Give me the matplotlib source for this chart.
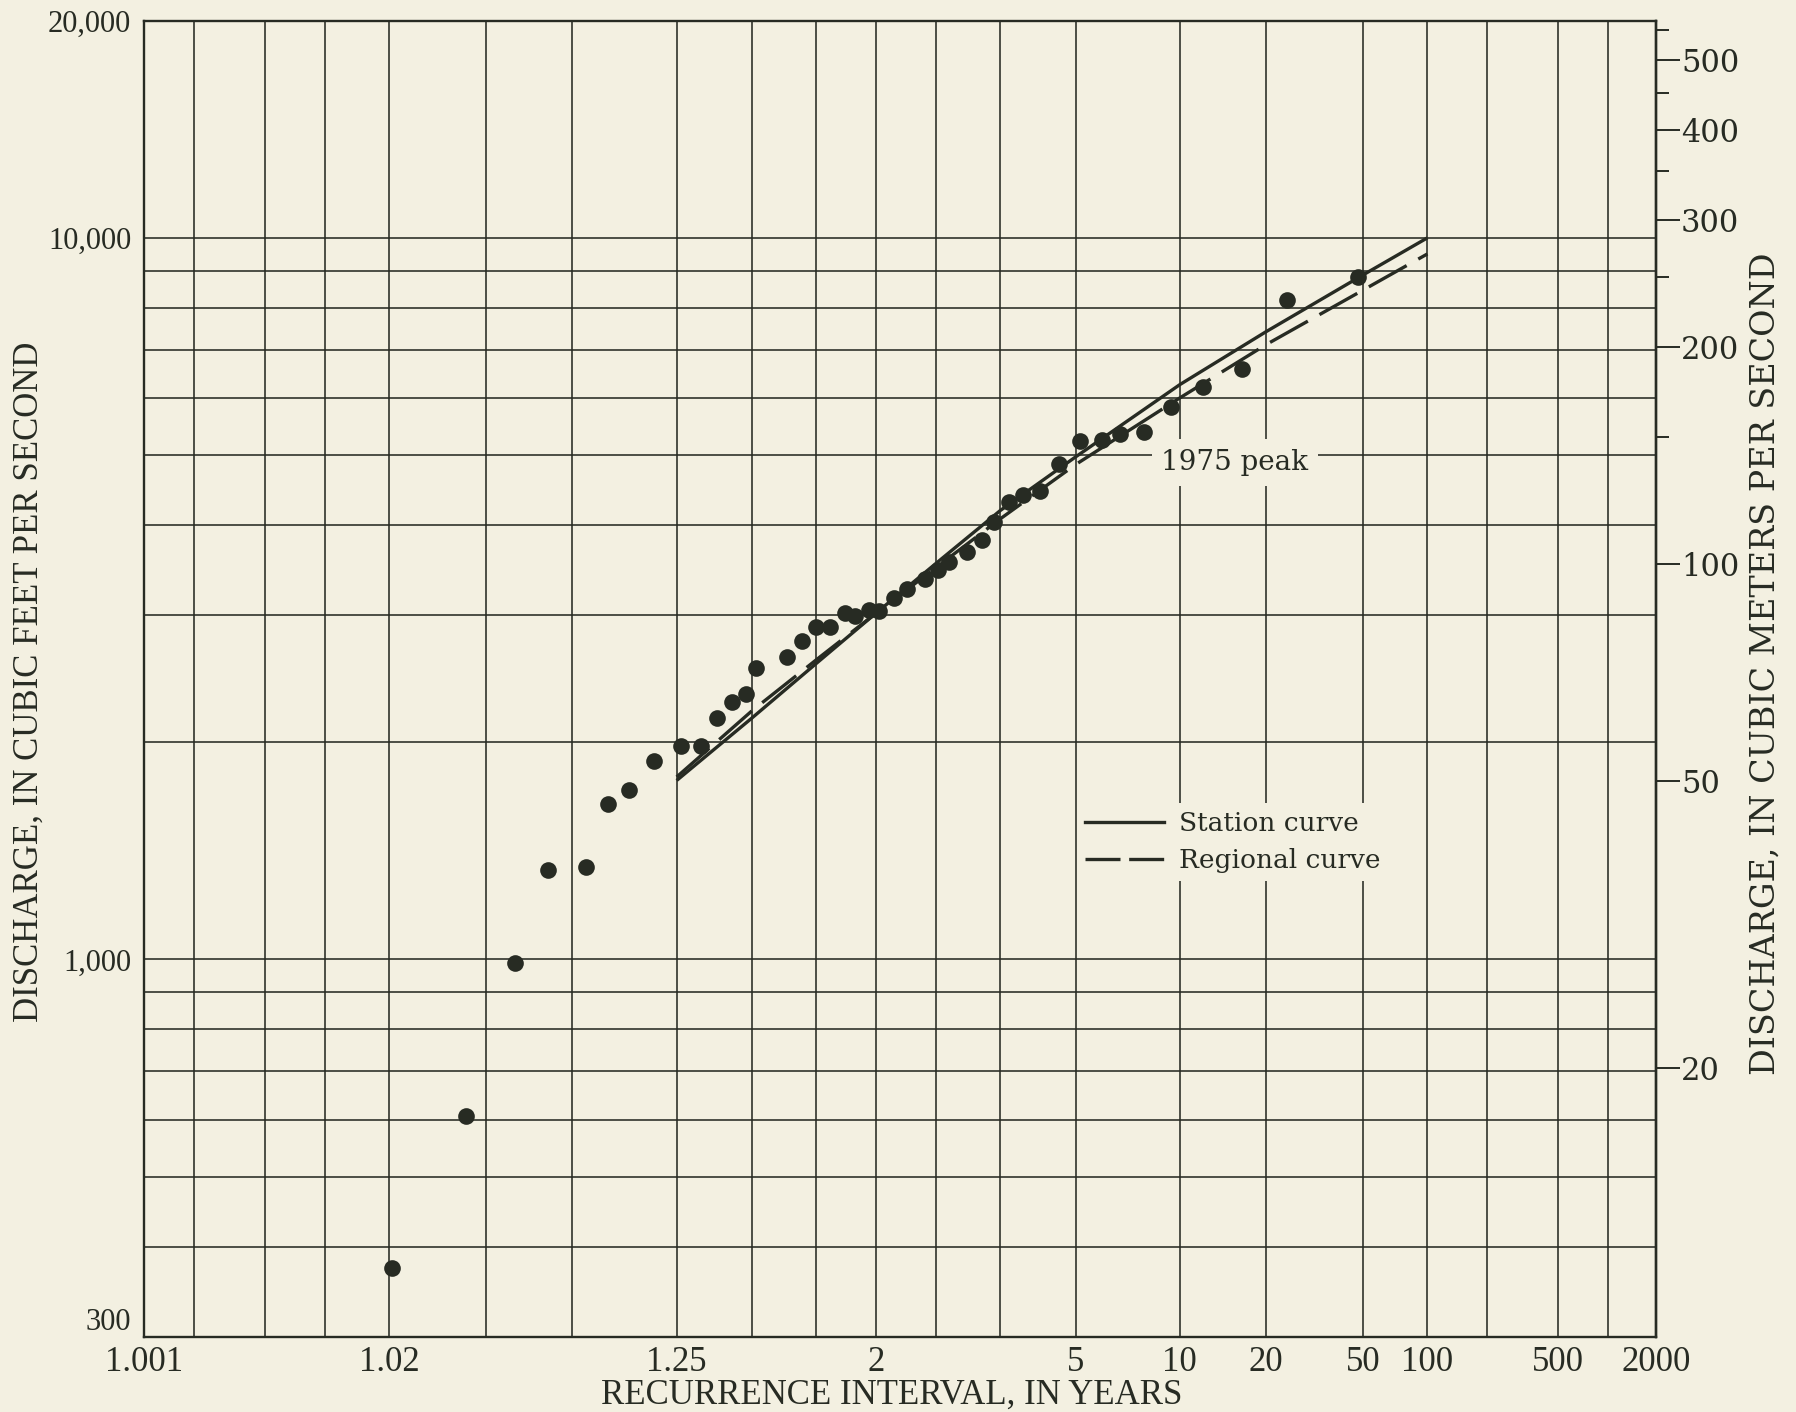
import math
from statistics import NormalDist
import numpy as np
import matplotlib
matplotlib.use('Agg')
import matplotlib.pyplot as plt
from matplotlib.ticker import NullFormatter
from matplotlib.lines import Line2D

BG = '#f3f0e1'
INK = '#272b23'
CFS_PER_CMS = 35.3147

# annual peaks: recurrence interval (years) and discharge (ft3/s)
peak_T = [1.021, 1.0436, 1.0684, 1.091, 1.124, 1.148, 1.175, 1.2115, 1.258, 1.299,
          1.335, 1.373, 1.411, 1.442, 1.546, 1.605, 1.666, 1.735, 1.809, 1.865,
          1.956, 2.023, 2.131, 2.231, 2.392, 2.523, 2.636, 2.853, 3.054, 3.226,
          3.476, 3.737, 4.08, 4.555, 5.14, 5.87, 6.60, 7.76, 9.35, 11.89,
          16.25, 24.2, 47.8]
peak_Q = [374, 606, 988, 1330, 1343, 1644, 1718, 1885, 1975, 1978,
          2160, 2275, 2334, 2532, 2627, 2759, 2893, 2893, 3016, 2994,
          3051, 3041, 3168, 3260, 3364, 3462, 3555, 3673, 3808, 4036,
          4300, 4400, 4460, 4860, 5230, 5250, 5340, 5380, 5820, 6210,
          6590, 8200, 8820]

station_T = [1.25, 1.4286, 1.6667, 2, 2.5, 3.3333, 5, 10, 20, 50, 100]
station_Q = [1770, 2160, 2570, 3020, 3540, 4190, 4970, 6260, 7410, 8880, 10000]

regional_T = [1.25, 1.4286, 1.6667, 2, 3.3333, 5, 10, 20, 50, 100]
regional_Q = [1790, 2210, 2600, 3020, 4080, 4850, 6000, 7110, 8460, 9500]

x_label_T = [1.001, 1.0204, 1.25, 2, 5, 10, 20, 50, 100, 500, 2000]
x_label_txt = ['1.001', '1.02', '1.25', '2', '5', '10', '20', '50', '100', '500', '2000']
x_grid_T = [1.002, 1.005, 1.0101, 1.0204, 1.0526, 1.1111, 1.25, 1.4286, 1.6667, 2,
            2.5, 3.3333, 5, 10, 20, 50, 100, 200, 500, 1000]

y_label_Q = [300, 1000, 10000, 20000]
y_label_txt = ['300', '1,000', '10,000', '20,000']
y_grid_Q = [400, 500, 600, 700, 800, 900, 2000, 3000, 4000, 5000, 6000, 7000, 8000, 9000]

cms_major = [20, 50, 100, 200, 300, 400, 500]
cms_minor = [150, 250, 350, 450, 550]

ND = NormalDist()
_ppf = np.vectorize(ND.inv_cdf, otypes=[float])
_erfc = np.vectorize(math.erfc, otypes=[float])


def t_to_z(t):
    # probability paper: recurrence interval -> standard normal variate
    t = np.clip(np.asarray(t, dtype=float), 1.0000001, 1e9)
    return _ppf(1.0 - 1.0 / t)


def z_to_t(z):
    z = np.asarray(z, dtype=float)
    q = 0.5 * _erfc(z / math.sqrt(2.0))
    return 1.0 / np.maximum(q, 1e-300)


plt.rcParams['font.family'] = ['Liberation Serif', 'DejaVu Serif']
plt.rcParams['text.color'] = INK

fig = plt.figure(figsize=(17.96, 14.12), dpi=100, facecolor=BG)
ax = fig.add_axes([0.0800, 0.0533, 0.8420, 0.9321], facecolor=BG)

ax.set_xscale('function', functions=(t_to_z, z_to_t))
ax.set_yscale('log')
ax.set_xlim(1.001, 2000)
ax.set_ylim(300, 20000)
ax.set_axisbelow(True)

ax.set_xticks(x_label_T, labels=x_label_txt)
ax.set_xticks(x_grid_T, minor=True)
ax.xaxis.set_minor_formatter(NullFormatter())
ax.set_yticks(y_label_Q, labels=y_label_txt)
ax.set_yticks(y_grid_Q, minor=True)
ax.yaxis.set_minor_formatter(NullFormatter())

ax.grid(True, which='both', color=INK, linewidth=1.15)
ax.tick_params(axis='x', which='both', length=0, pad=7, labelsize=25, labelcolor=INK)
ax.tick_params(axis='y', which='both', length=0, pad=9, labelsize=22, labelcolor=INK)
ax.get_yticklabels()[0].set_verticalalignment('bottom')
for s in ax.spines.values():
    s.set_color(INK)
    s.set_linewidth(1.7)

ax.plot(station_T, station_Q, color=INK, lw=2.4, zorder=4, solid_capstyle='butt')
ax.plot(regional_T, regional_Q, color=INK, lw=2.4, dashes=(13, 4), zorder=4)
ax.plot(peak_T, peak_Q, 'o', color=INK, ms=12, mew=0, zorder=5)

ax.text(15.4, 4880, '1975 peak', family='DejaVu Serif', fontsize=20, color=INK,
        ha='center', va='center', zorder=3,
        bbox=dict(boxstyle='square,pad=0.35', facecolor=BG, edgecolor='none'))

handles = [Line2D([], [], color=INK, lw=2.4),
           Line2D([], [], color=INK, lw=2.4, dashes=(10.5, 2.6))]
leg = ax.legend(handles, ['Station curve', 'Regional curve'], loc='center left',
                bbox_to_anchor=(0.5997, 0.4037), bbox_transform=fig.transFigure,
                frameon=True, fancybox=False, handlelength=3.0, handletextpad=0.55,
                labelspacing=0.45, borderpad=0.3, borderaxespad=0,
                prop={'family': 'DejaVu Serif', 'size': 19})
leg.get_frame().set_facecolor(BG)
leg.get_frame().set_edgecolor('none')
leg.get_frame().set_alpha(1)

# metric scale on the right
sec = ax.secondary_yaxis('right', functions=(lambda q: q / CFS_PER_CMS,
                                              lambda c: c * CFS_PER_CMS))
sec.set_ticks(cms_major, labels=[str(v) for v in cms_major])
sec.set_ticks(cms_minor, minor=True)
sec.yaxis.set_minor_formatter(NullFormatter())
sec.tick_params(which='major', direction='out', length=17, width=1.4, pad=1,
                color=INK, labelcolor=INK)
sec.tick_params(which='minor', direction='out', length=9, width=1.4, color=INK)
for lab in sec.get_yticklabels():
    lab.set_family('DejaVu Serif')
    lab.set_fontsize(22)
sec.spines['right'].set_color(INK)
sec.spines['right'].set_linewidth(1.7)

fig.text(0.4967, 0.012, 'RECURRENCE INTERVAL, IN YEARS', fontsize=25,
         ha='center', va='center', color=INK)
fig.text(0.016, 0.5174, 'DISCHARGE, IN CUBIC FEET PER SECOND', fontsize=25,
         rotation=90, ha='center', va='center', color=INK)
fig.text(0.983, 0.5297, 'DISCHARGE, IN CUBIC METERS PER SECOND', fontsize=24,
         family='DejaVu Serif', rotation=90, ha='center', va='center', color=INK)

fig.savefig('out.png', dpi=100, facecolor=BG)
